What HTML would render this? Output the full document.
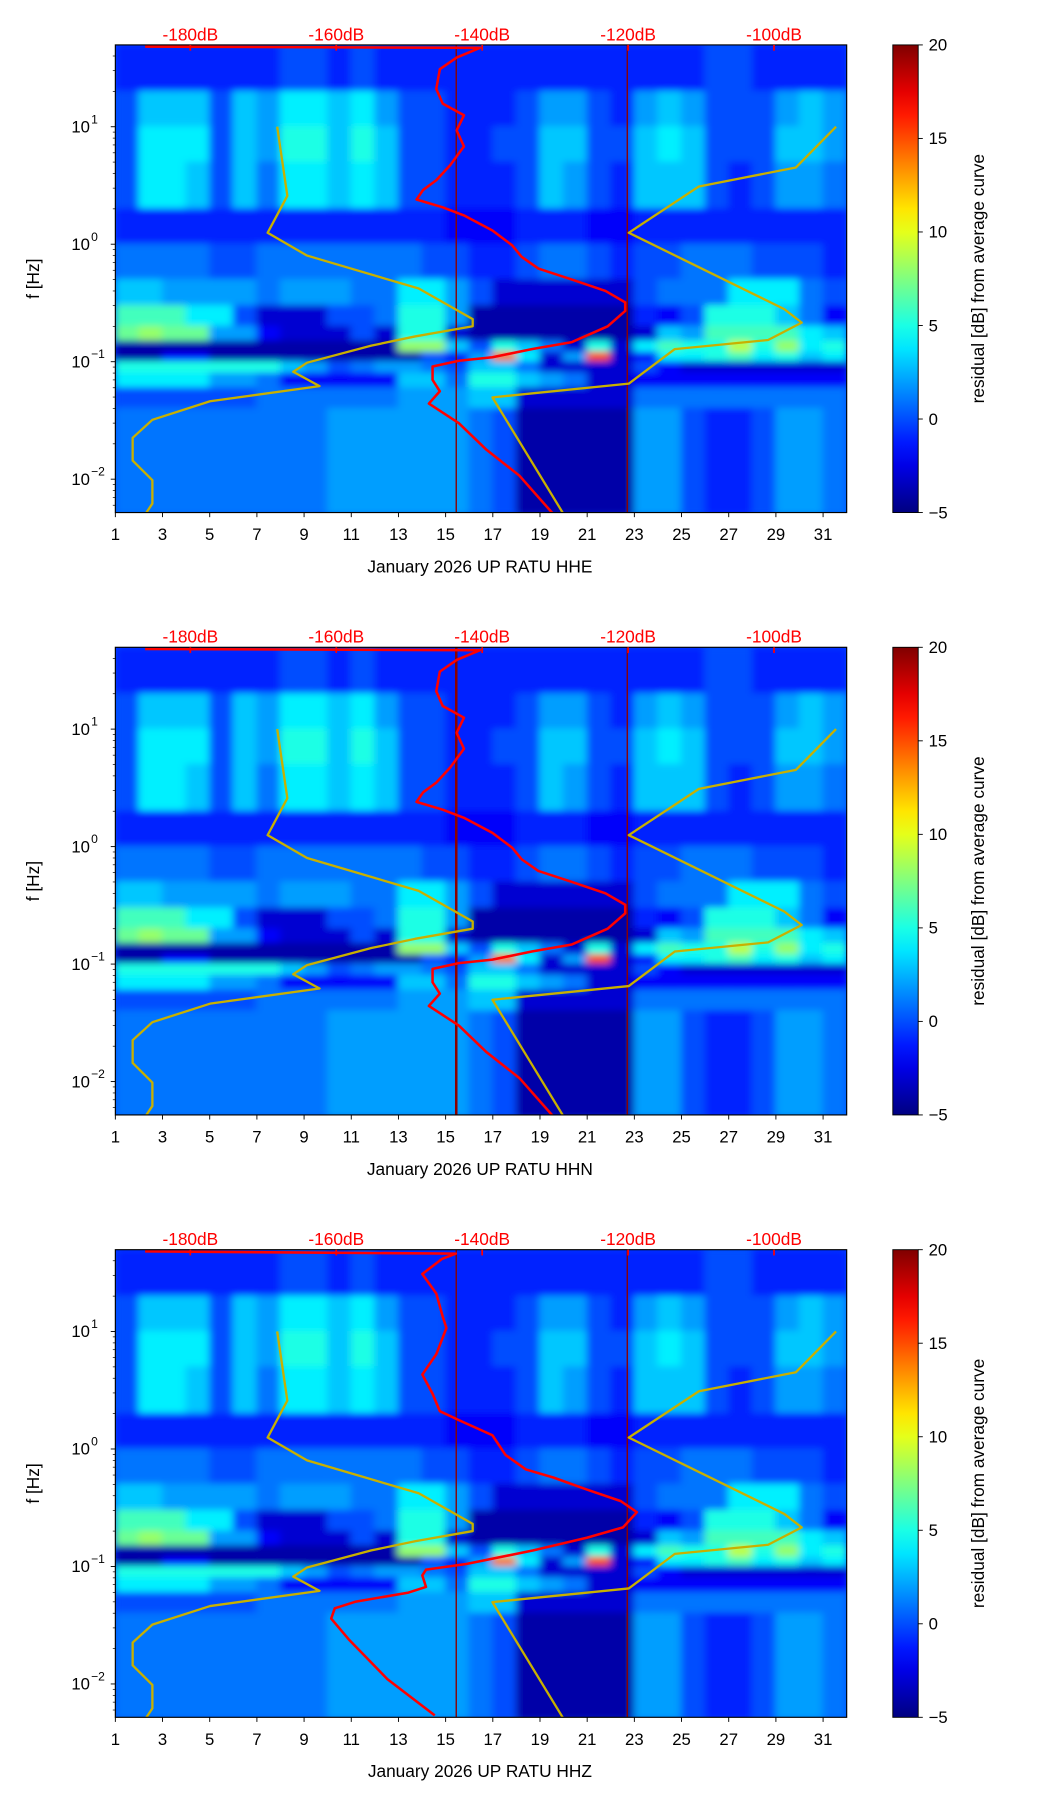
<!DOCTYPE html>
<html><head><meta charset="utf-8"><title>RATU residual spectrograms</title>
<style>
html,body{margin:0;padding:0;background:#fff;}
svg{display:block;}
text{font-family:"Liberation Sans",sans-serif;}
</style></head>
<body>
<svg id="fig" width="1052" height="1806" viewBox="0 0 912 1568" preserveAspectRatio="none" xmlns="http://www.w3.org/2000/svg">
<defs>
<filter id="blur" x="-5%" y="-5%" width="110%" height="110%"><feGaussianBlur stdDeviation="3.5 3"/></filter>
<linearGradient id="jetGrad" x1="0" y1="1" x2="0" y2="0"></linearGradient>
</defs>
</svg>
<script>
const days = [1,2,3,4,5,6,7,8,9,10,11,12,13,14,15,16,17,18,19,20,21,22,23,24,25,26,27,28,29,30,31];
const freqEdges = [50,20,10,5,2,1,0.5,0.3,0.2,0.15,0.12,0.1,0.08,0.06,0.04,0.02,0.01,0.005];
const residualGrid = [
[-1,-1,-1,-1,-1,-1,-1,0,0,-1,0,-1,-1,-1,-1,-1,-1,-1,-1,-1,-1,-1,-1,-1,-1,0,0,-1,-1,-1,-1],
[0,3,3,3,0,3,2,4,4,3,4,2,0,0,-1,-1,-1,0,2,2,0,-1,2,3,2,0,0,0,2,3,2],
[0,4,4,4,0,3,2,5,5,3,5,3,0,0,-1,-1,0,0,3,3,0,0,3,4,3,0,0,0,3,3,2],
[0,4,4,3,0,3,1,4,4,3,4,3,0,0,-1,-1,-1,0,3,2,0,-1,3,3,3,0,-1,0,2,2,1],
[-1,-1,-1,-1,-1,-1,-1,-1,-1,-1,-1,-1,-1,-1,-2,-2,-2,-1,-1,-1,-2,-2,-1,-1,-1,-1,-1,-1,-1,-1,-1],
[1,1,1,1,0,0,1,1,1,1,1,1,1,0,0,-1,-1,0,1,1,0,-1,0,0,1,1,1,0,0,0,-1],
[3,3,2,2,2,2,1,2,2,2,1,1,4,4,2,0,-3,-3,-3,-3,-3,-3,0,1,1,1,4,4,4,1,0],
[6,6,6,4,4,0,-3,-3,-3,0,0,1,5,5,2,-4,-4,-4,-4,-4,-4,-4,-1,-2,0,5,5,5,3,1,-2],
[7,8,7,7,2,2,-2,-3,-3,-3,0,-3,5,5,-3,-4,-4,-4,-4,-4,-4,-4,-3,3,2,6,6,6,6,4,3],
[-4,-4,-4,-4,-4,-4,-4,-4,-4,-4,-4,-4,8,8,3,0,5,3,1,-3,5,-3,4,6,5,5,9,5,8,4,5],
[-4,-4,-2,-2,-4,-4,-4,-4,-4,-4,-4,-4,-4,0,-2,2,14,4,-3,2,15,-3,-2,4,4,5,6,4,5,3,4],
[5,5,5,5,5,5,5,3,2,0,1,2,2,1,0,3,3,1,-3,-3,-3,-3,0,-2,-3,-3,-3,-3,-3,-3,-3],
[4,4,4,4,2,2,1,-2,-2,-2,-2,-2,3,3,1,5,5,3,2,1,-3,-3,-2,-2,-2,-2,-2,-2,-2,-2,-2],
[0,0,0,0,0,0,1,1,1,1,1,1,2,2,2,3,3,-3,-3,-3,-3,-3,1,1,1,1,1,1,1,1,1],
[1,1,1,1,1,1,1,1,1,2,2,2,2,2,2,1,0,-4,-4,-4,-4,-4,2,2,0,-1,-1,0,2,2,1],
[1,1,1,1,1,1,1,1,1,2,2,2,2,2,2,1,0,-4,-4,-4,-4,-4,2,2,0,-1,-1,0,2,2,1],
[1,1,1,1,1,1,1,1,1,2,2,2,2,2,2,1,0,-4,-4,-4,-4,-4,2,2,0,-1,-1,0,2,2,1]
];
const xTickLabels = [1,3,5,7,9,11,13,15,17,19,21,23,25,27,29,31];
const dbTickLabels = [-180,-160,-140,-120,-100];
const cbarTicks = [-5,0,5,10,15,20];
const yDecades = [-2,-1,0,1];
const channels = ["HHE","HHN","HHZ"];
const psdDbA = [-186.2,-140.3,-143.5,-145.8,-146.3,-145.4,-142.5,-143.5,-142.5,-144.4,-146.3,-148.1,-149,-145.4,-142.5,-138.6,-135.9,-134.6,-132.3,-127.7,-123.1,-120.4,-120.4,-122.8,-127.7,-133.2,-138.6,-143.2,-146.8,-146.8,-145.8,-147.3,-143.2,-139.5,-134.9,-130.2];
const psdFreqA = [48,47,38.8,30.9,21,15.7,12.5,9.3,6.8,4.7,3.5,2.9,2.4,2.06,1.76,1.31,0.98,0.78,0.62,0.5,0.4,0.32,0.27,0.2,0.147,0.128,0.109,0.102,0.091,0.07,0.056,0.044,0.03,0.018,0.0107,0.005];
const psdDbZ = [-186.2,-143.6,-145.5,-148.2,-146.3,-145.4,-144.9,-146.3,-148.2,-146.8,-145.8,-143.2,-138.6,-136.8,-134,-130.2,-125.6,-121,-118.8,-120.7,-125.6,-133,-142.2,-147.7,-148.2,-147.7,-150.1,-157.4,-160.2,-160.7,-158.3,-153,-146.5];
const psdFreqZ = [48,46,41.5,30.9,21.1,13.4,10.7,6.4,4.3,2.95,2.1,1.76,1.31,0.89,0.67,0.57,0.45,0.36,0.29,0.215,0.176,0.137,0.105,0.094,0.084,0.067,0.06,0.05,0.044,0.036,0.024,0.011,0.0054];
const nlnmDb = [-168.1,-166.7,-169.4,-164,-148.7,-141.3,-141.3,-149.2,-155.2,-164,-165.9,-162.3,-177.3,-185.2,-187.9,-187.9,-185.2,-185.2,-186.2];
const nlnmFreq = [10,2.58,1.25,0.8,0.42,0.23,0.2,0.164,0.137,0.098,0.082,0.062,0.046,0.032,0.0225,0.0144,0.0098,0.0062,0.005];
const nhnmDb = [-91.5,-97,-110.3,-119.9,-98.6,-96.2,-100.8,-113.6,-119.9,-138.6,-128.8];
const nhnmFreq = [10,4.5,3.1,1.25,0.28,0.215,0.153,0.128,0.065,0.0497,0.005];
const markerDays = [15.45,22.7];

const NS="http://www.w3.org/2000/svg";
const svg=document.getElementById('fig');
function el(tag,attrs,parent){const e=document.createElementNS(NS,tag);for(const k in attrs)e.setAttribute(k,attrs[k]);(parent||svg).appendChild(e);return e;}
function jet(t){t=Math.max(0,Math.min(1,t));
 const r=Math.max(0,Math.min(1,Math.min(4*t-1.5,-4*t+4.5)));
 const g=Math.max(0,Math.min(1,Math.min(4*t-0.5,-4*t+3.5)));
 const b=Math.max(0,Math.min(1,Math.min(4*t+0.5,-4*t+2.5)));
 return `rgb(${Math.round(r*255)},${Math.round(g*255)},${Math.round(b*255)})`;}
const grad=document.getElementById('jetGrad');
for(let i=0;i<=20;i++){const s=document.createElementNS(NS,'stop');s.setAttribute('offset',i/20);s.setAttribute('stop-color',jet(i/20));grad.appendChild(s);}

const X0=100,X1=734,DAY0=1,DAY1=32;
const FTOP=Math.log10(49.7),FBOT=Math.log10(0.0052);
const DB0=165,DBSCALE=126.5/20;
function xDay(d){return X0+(d-DAY0)*(X1-X0)/(DAY1-DAY0);}
function xDb(db){return DB0+(db+180)*DBSCALE;}
function cval(v){return (v+5)/25;}

channels.forEach((ch,pi)=>{
 const oy=pi*523;
 const T=39+oy,B=445+oy;
 const yF=f=>T+(FTOP-Math.log10(f))*(B-T)/(FTOP-FBOT);
 const g=el('g',{});
 
 
 const cp=el('clipPath',{id:'clip'+pi},g);el('rect',{x:X0,y:T,width:X1-X0,height:B-T},cp);
 const hm=el('g',{'clip-path':`url(#clip${pi})`},g);
 
 
 el('rect',{x:X0,y:T,width:X1-X0,height:B-T,fill:jet(0.2)},hm);
 const cells=el('g',{filter:'url(#blur)'},hm);
 for(let r=0;r<residualGrid.length;r++){
  const ya=yF(freqEdges[r]),yb=yF(freqEdges[r+1]);
  for(let c=0;c<days.length;c++){
   const xa=xDay(days[c]),xb=xDay(days[c]+1);
   const cell=el('rect',{x:xa-0.5,y:ya-0.5,width:xb-xa+1,height:yb-ya+1,fill:jet(cval(residualGrid[r][c]))},cells);
   
   
  }
 }
 markerDays.forEach(d=>{const l=el('line',{x1:xDay(d),x2:xDay(d),y1:T,y2:B,stroke:'#8b0000','stroke-width':pi==1&&d<20?2.2:1.2},hm);
  });
 function poly(dbs,fs,color,w,name){
  const pts=dbs.map((db,i)=>xDb(db).toFixed(1)+','+yF(fs[i]).toFixed(1)).join(' ');
  const p=el('polyline',{points:pts,fill:'none',stroke:color,'stroke-width':w,'stroke-linejoin':'round'},hm);
  }
 poly(nlnmDb,nlnmFreq,'#c8b000',2,'nlnm-curve');
 poly(nhnmDb,nhnmFreq,'#c8b000',2,'nhnm-curve');
 if(pi==2)poly(psdDbZ,psdFreqZ,'#ff0000',2.2,'psd-curve');else poly(psdDbA,psdFreqA,'#ff0000',2.2,'psd-curve');
 const frame=el('rect',{x:X0,y:T,width:X1-X0,height:B-T,fill:'none',stroke:'#000','stroke-width':1},g);
 
 xTickLabels.forEach(d=>{const x=xDay(d);el('line',{x1:x,x2:x,y1:B,y2:B+4,stroke:'#000','stroke-width':0.8},g);
  const t=el('text',{x:x,y:B+24,'text-anchor':'middle','font-size':14.5},g);t.textContent=d;
  });
 const xl=el('text',{x:416,y:B+52,'text-anchor':'middle','font-size':15},g);xl.textContent='January 2026 UP RATU  '+ch;
 
 yDecades.forEach(e=>{const y=yF(Math.pow(10,e));el('line',{x1:X0-4,x2:X0,y1:y,y2:y,stroke:'#000','stroke-width':0.8},g);
  const t=el('text',{x:X0-22,y:y+5,'text-anchor':'end','font-size':14.5},g);t.textContent='10';
  
  const s=el('text',{x:X0-21,y:y-3,'text-anchor':'start','font-size':10.5},g);s.textContent=e<0?'\u2212'+(-e):String(e);
  for(let m=2;m<=9;m++){const f=m*Math.pow(10,e);const ym=yF(f);if(ym>=T&&ym<=B)el('line',{x1:X0-2.2,x2:X0,y1:ym,y2:ym,stroke:'#000','stroke-width':0.6},g);}});
 [0.006,0.007,0.008,0.009].forEach(f=>{const ym=yF(f);el('line',{x1:X0-2.2,x2:X0,y1:ym,y2:ym,stroke:'#000','stroke-width':0.6},g);});
 const yl=el('text',{x:0,y:0,'text-anchor':'middle','font-size':15,transform:`translate(34,${(T+B)/2}) rotate(-90)`},g);yl.textContent='f [Hz]';
 
 dbTickLabels.forEach(db=>{const x=xDb(db);el('line',{x1:x,x2:x,y1:T,y2:T+5,stroke:'#ff0000','stroke-width':1.5},g);
  const t=el('text',{x:x,y:T-4,'text-anchor':'middle','font-size':15,fill:'#ff0000'},g);t.textContent=db+'dB';
  });
 const cb=el('rect',{x:774,y:T,width:22,height:B-T,fill:'url(#jetGrad)',stroke:'#000','stroke-width':0.8},g);
 
 cbarTicks.forEach(v=>{const y=B-(v+5)/25*(B-T);el('line',{x1:796,x2:800,y1:y,y2:y,stroke:'#000','stroke-width':0.8},g);
  const t=el('text',{x:805,y:y+5,'font-size':14.5},g);t.textContent=v<0?'\u2212'+(-v):String(v);
  });
 const cl=el('text',{x:0,y:0,'text-anchor':'middle','font-size':15,transform:`translate(853,${(T+B)/2}) rotate(-90)`},g);cl.textContent='residual [dB] from average curve';
 
});
</script>
</body></html>
